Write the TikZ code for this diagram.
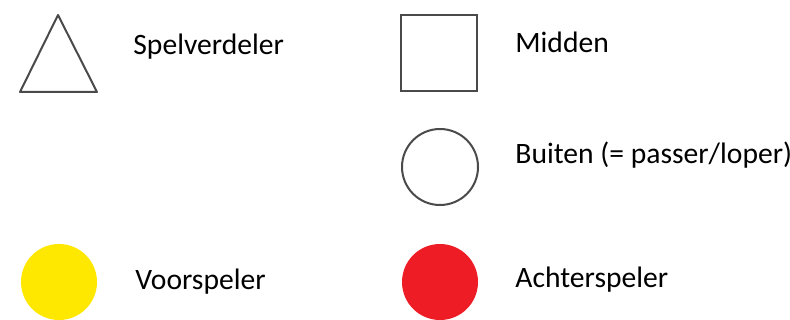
\documentclass[tikz,border=0pt]{standalone}
\usepackage{fontspec}
\setmainfont{Carlito}
\definecolor{symline}{HTML}{4A4A4A}
\definecolor{vooryellow}{HTML}{FFE800}
\definecolor{achterred}{HTML}{EE1D25}
\tikzset{
  label/.style={anchor=base west,inner sep=0pt,font=\fontsize{14.8}{17}\selectfont},
  symbol/.style={draw=symline,line width=1pt},
  disc/.style={circle,minimum size=38pt,inner sep=0pt}
}
\begin{document}
\begin{tikzpicture}[x=0.5pt,y=-0.5pt]
\useasboundingbox (0,0) rectangle (790,320);

% left column
\draw[symbol,line join=round] (58,15) -- (97,92) -- (20,92) -- cycle;
\node[label] (spel) at (133,55) {Spelverdeler};

\node[disc,fill=vooryellow] (voor) at (59,282) {};
\node[label] (voortxt) at (135,289) {Voorspeler};

% right column
\node[symbol,rectangle,minimum size=38pt,inner sep=0pt] (mid) at (439,53.5) {};
\node[label] (midtxt) at (515,53) {Midden};

\node[symbol,circle,minimum size=38pt,inner sep=0pt] (buiten) at (440,167) {};
\node[label] (buitentxt) at (515,163) {Buiten (= passer/loper)};

\node[disc,fill=achterred] (achter) at (440,282) {};
\node[label] (achtertxt) at (515,287) {Achterspeler};
\end{tikzpicture}
\end{document}
